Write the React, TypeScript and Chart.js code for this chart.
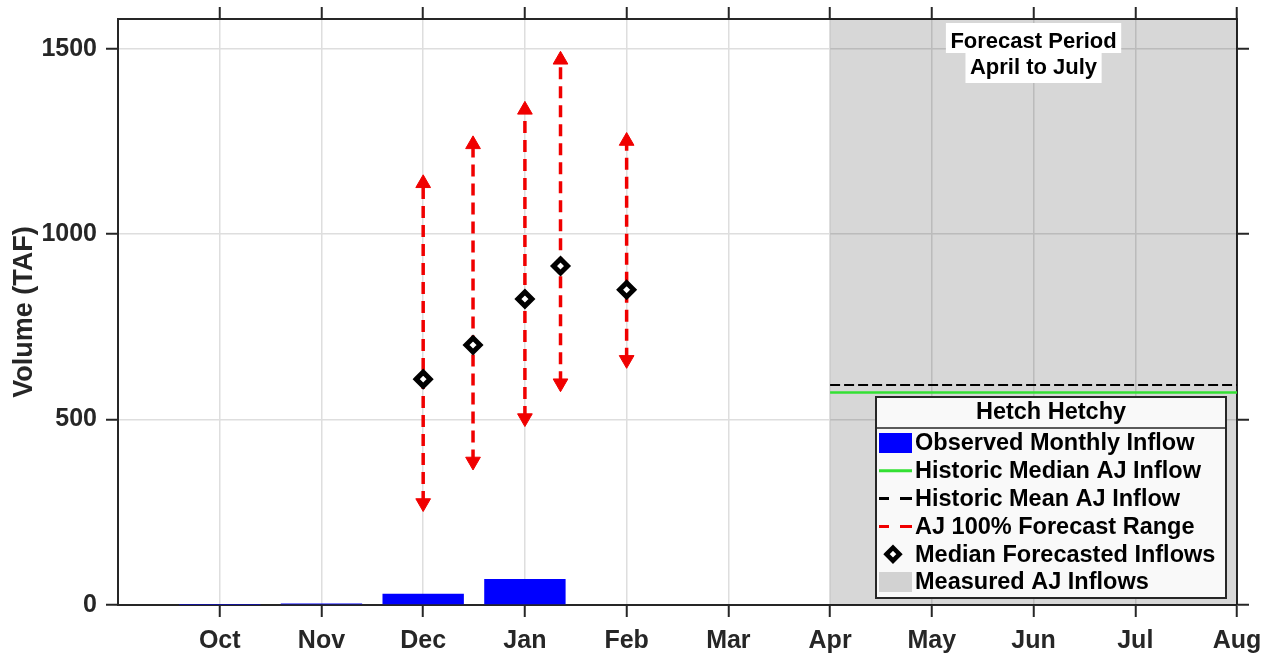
import React, { useEffect, useRef } from 'react';
import { Chart, registerables } from 'chart.js';

Chart.register(...registerables);

// ---------- data ----------
const monthLabels = ['Oct', 'Nov', 'Dec', 'Jan', 'Feb', 'Mar', 'Apr', 'May', 'Jun', 'Jul', 'Aug'];
const monthTicks = [1, 2, 3, 4, 5, 6, 7, 8, 9, 10, 11];
const xRange = [0, 11];
const yRange = [0, 1580];
const yTicks = [0, 500, 1000, 1500];

const observedMonth = [1, 2, 3, 4];
const observedInflow = [1, 4, 30, 70];

const forecastDate = [3, 3.49, 4, 4.35, 5];
const forecastLow = [275, 387, 504, 598, 661];
const forecastHigh = [1137, 1242, 1335, 1470, 1251];
const forecastMedian = [609, 701, 825, 914, 850];

const forecastPeriod = [7, 11];
const historicMedian = [573, 573];
const historicMean = [593, 593];

const legendTitle = 'Hetch Hetchy';
const legendLabels = [
  'Observed Monthly Inflow',
  'Historic Median AJ Inflow',
  'Historic Mean AJ Inflow',
  'AJ 100% Forecast Range',
  'Median Forecasted Inflows',
  'Measured AJ Inflows',
];
const annotationLines = ['Forecast Period', 'April to July'];
const annotationX = 9;

// ---------- styles ----------
const FONT = "'Liberation Sans', Arial, Helvetica, sans-serif";
const AXIS = '#262626';
const GRID = '#dedede';
const BLUE = '#0000ff';
const GREEN = '#33e033';
const RED = '#f00000';
const SHADE = 'rgba(0,0,0,0.155)';

const overlayPlugin = {
  id: 'overlay',
  afterDatasetsDraw(chart: any) {
    const { ctx, chartArea: area } = chart;
    const cx = chart.scales.x.getPixelForValue(annotationX);
    ctx.save();
    ctx.font = `bold 22px ${FONT}`;
    ctx.textAlign = 'center';
    ctx.textBaseline = 'alphabetic';
    const boxTops = [area.top + 4, area.top + 34];
    const boxHeights = [30, 30];
    const baselines = [area.top + 29, area.top + 55];
    annotationLines.forEach((t, i) => {
      const w = ctx.measureText(t).width + 9;
      ctx.fillStyle = '#ffffff';
      ctx.fillRect(cx - w / 2, boxTops[i], w, boxHeights[i]);
      ctx.fillStyle = '#000000';
      ctx.fillText(t, cx, baselines[i]);
    });
    ctx.restore();
  },
  afterDraw(chart: any) {
    const { ctx, chartArea: area } = chart;
    const L = area.right - 361;
    const R = area.right - 11;
    const T = area.bottom - 208;
    const B = area.bottom - 7;
    ctx.save();
    ctx.fillStyle = '#f9f9f9';
    ctx.fillRect(L, T, R - L, B - T);
    ctx.strokeStyle = AXIS;
    ctx.lineWidth = 2;
    ctx.strokeRect(L, T, R - L, B - T);
    ctx.beginPath();
    ctx.lineWidth = 1.5;
    ctx.moveTo(L, T + 31);
    ctx.lineTo(R, T + 31);
    ctx.stroke();

    ctx.font = `bold 23.5px ${FONT}`;
    ctx.textBaseline = 'middle';
    ctx.textAlign = 'center';
    ctx.fillStyle = '#000000';
    ctx.fillText(legendTitle, (L + R) / 2, T + 16);

    ctx.textAlign = 'left';
    const x0 = L + 3;
    const x1 = L + 36;
    legendLabels.forEach((label, i) => {
      const y = T + 46 + i * 27.8;
      ctx.setLineDash([]);
      if (i === 0) {
        ctx.fillStyle = BLUE;
        ctx.fillRect(x0, y - 10, x1 - x0, 20);
      } else if (i === 1) {
        ctx.strokeStyle = GREEN;
        ctx.lineWidth = 3;
        ctx.beginPath();
        ctx.moveTo(x0, y);
        ctx.lineTo(x1, y);
        ctx.stroke();
      } else if (i === 2 || i === 3) {
        ctx.strokeStyle = i === 2 ? '#000000' : RED;
        ctx.lineWidth = 3;
        ctx.beginPath();
        ctx.moveTo(x0, y);
        ctx.lineTo(x0 + 10, y);
        ctx.moveTo(x0 + 21, y);
        ctx.lineTo(x1, y);
        ctx.stroke();
      } else if (i === 4) {
        const cx = L + 17;
        const r = 6.5;
        ctx.strokeStyle = '#000000';
        ctx.fillStyle = '#ffffff';
        ctx.lineWidth = 4.5;
        ctx.beginPath();
        ctx.moveTo(cx - r, y);
        ctx.lineTo(cx, y - r);
        ctx.lineTo(cx + r, y);
        ctx.lineTo(cx, y + r);
        ctx.closePath();
        ctx.fill();
        ctx.stroke();
      } else {
        ctx.fillStyle = SHADE;
        ctx.fillRect(x0, y - 10, x1 - x0, 20);
      }
      ctx.fillStyle = '#000000';
      ctx.fillText(label, L + 39, y + 1);
    });
    ctx.restore();
  },
};

const tickFont = { family: FONT, size: 25, weight: 'bold' as const };
const gridMain = { color: GRID, lineWidth: 1.5, tickColor: AXIS, tickLength: 12, tickWidth: 2, offset: false };
const gridMirror = { ...gridMain, drawOnChartArea: false };
const border = { color: AXIS, width: 2 };

const fixSize = (prop: 'width' | 'height', size: number) => (s: any) => {
  s[prop] = size;
  s.paddingTop = 0;
  s.paddingBottom = 0;
  s.paddingLeft = 0;
  s.paddingRight = 0;
};

export default function App() {
  const ref = useRef<HTMLCanvasElement>(null);

  useEffect(() => {
    if (!ref.current) return;

    const rangeDatasets = forecastDate.map((d, i) => ({
      type: 'line' as const,
      data: [
        { x: d, y: forecastLow[i] },
        { x: d, y: forecastHigh[i] },
      ],
      borderColor: RED,
      borderWidth: 3.5,
      borderDash: [12, 7],
      pointStyle: 'triangle' as const,
      pointRadius: 8.5,
      pointRotation: [180, 0],
      pointBackgroundColor: RED,
      pointBorderColor: RED,
      pointBorderWidth: 1,
      order: 3,
    }));

    const chart = new Chart(ref.current, {
      type: 'line',
      data: {
        datasets: [
          {
            type: 'line',
            label: legendLabels[5],
            data: forecastPeriod.map((x) => ({ x, y: 0 })),
            fill: 'end',
            backgroundColor: SHADE,
            borderWidth: 0,
            pointRadius: 0,
            order: 10,
          },
          {
            type: 'bar',
            label: legendLabels[0],
            data: observedMonth.map((x, i) => ({ x, y: observedInflow[i] })),
            backgroundColor: BLUE,
            borderWidth: 0,
            barPercentage: 1,
            categoryPercentage: 0.8,
            order: 8,
          },
          {
            type: 'line',
            label: legendLabels[1],
            data: forecastPeriod.map((x, i) => ({ x, y: historicMedian[i] })),
            borderColor: GREEN,
            borderWidth: 2.5,
            pointRadius: 0,
            order: 6,
          },
          {
            type: 'line',
            label: legendLabels[2],
            data: forecastPeriod.map((x, i) => ({ x, y: historicMean[i] })),
            borderColor: '#000000',
            borderWidth: 2,
            borderDash: [10, 4],
            pointRadius: 0,
            order: 5,
          },
          ...rangeDatasets,
          {
            type: 'line',
            label: legendLabels[4],
            data: forecastDate.map((x, i) => ({ x, y: forecastMedian[i] })),
            showLine: false,
            pointStyle: 'rectRot',
            pointRadius: 7,
            pointBorderWidth: 5,
            pointBorderColor: '#000000',
            pointBackgroundColor: '#ffffff',
            order: 1,
          },
        ] as any,
      },
      options: {
        responsive: false,
        animation: false,
        events: [],
        layout: { padding: 0 },
        plugins: {
          legend: { display: false },
          tooltip: { enabled: false },
        },
        scales: {
          x: {
            type: 'linear',
            position: 'bottom',
            min: xRange[0],
            max: xRange[1],
            offset: false,
            afterBuildTicks: (s: any) => {
              s.ticks = monthTicks.map((v) => ({ value: v }));
            },
            afterFit: fixSize('height', 57),
            grid: gridMain,
            border,
            ticks: {
              autoSkip: false,
              maxRotation: 0,
              padding: 9,
              color: AXIS,
              font: tickFont,
              callback: (v: any) => {
                const i = monthTicks.indexOf(Number(v));
                return i >= 0 ? monthLabels[i] : '';
              },
            },
          },
          x2: {
            type: 'linear',
            position: 'top',
            min: xRange[0],
            max: xRange[1],
            offset: false,
            afterBuildTicks: (s: any) => {
              s.ticks = monthTicks.map((v) => ({ value: v }));
            },
            afterFit: fixSize('height', 19),
            grid: gridMirror,
            border,
            ticks: { display: false },
          },
          y: {
            type: 'linear',
            position: 'left',
            min: yRange[0],
            max: yRange[1],
            afterBuildTicks: (s: any) => {
              s.ticks = yTicks.map((v) => ({ value: v }));
            },
            afterFit: fixSize('width', 118),
            grid: gridMain,
            border,
            ticks: { padding: 9, color: AXIS, font: tickFont, callback: (v: any) => String(v) },
            title: {
              display: true,
              text: 'Volume (TAF)',
              color: AXIS,
              font: { family: FONT, size: 27, weight: 'bold' },
              padding: { top: 8, bottom: 0 },
            },
          },
          y2: {
            type: 'linear',
            position: 'right',
            min: yRange[0],
            max: yRange[1],
            afterBuildTicks: (s: any) => {
              s.ticks = yTicks.map((v) => ({ value: v }));
            },
            afterFit: fixSize('width', 33),
            grid: gridMirror,
            border,
            ticks: { display: false },
          },
        },
      } as any,
      plugins: [overlayPlugin],
    });

    return () => chart.destroy();
  }, []);

  return (
    <div style={{ position: 'absolute', left: 0, top: 0, width: 1270, height: 662, background: '#ffffff' }}>
      <canvas ref={ref} width={1270} height={662} style={{ display: 'block' }} />
    </div>
  );
}
